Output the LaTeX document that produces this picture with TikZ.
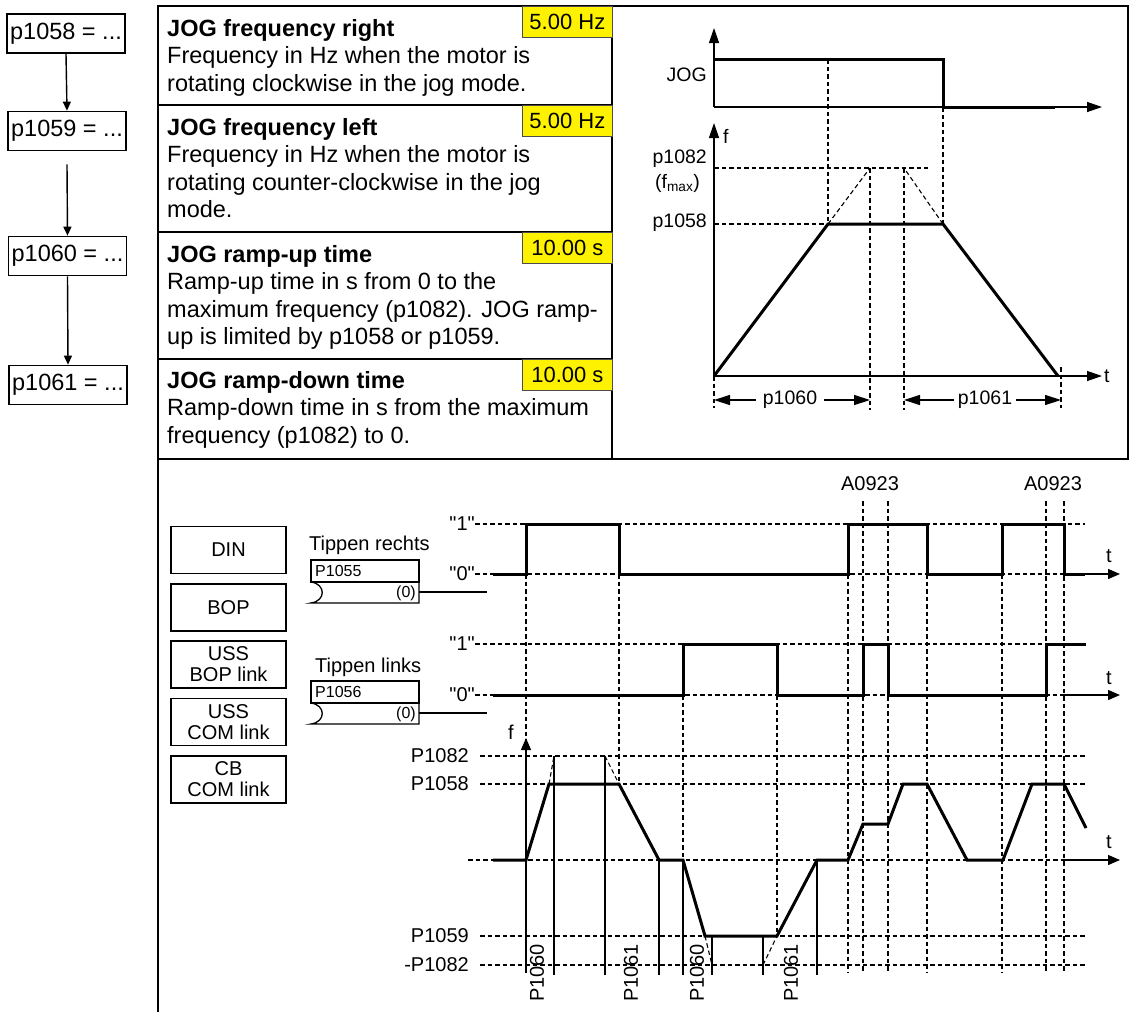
\documentclass[tikz,border=0pt]{standalone}
\usepackage{fontspec}
\setmainfont{Liberation Sans}
\newfontfamily\qfont{Liberation Sans}
\usetikzlibrary{arrows.meta}
\newcommand{\dqt}{{\qfont\symbol{34}}}
\begin{document}
\begin{tikzpicture}[x=1pt,y=-1pt,
 frame/.style={line width=2pt},
 pbox/.style={draw, line width=1.7pt, minimum width=118pt, minimum height=39pt, inner sep=0pt, font=\fontsize{23.5}{28}\selectfont},
 parr/.style={-{Triangle[length=9pt,width=8pt]}, line width=1.4pt},
 desc/.style={anchor=north west, inner sep=0pt, align=left, font=\fontsize{23.5}{27.5}\selectfont},
 val/.style={draw=black!70, fill=yellow, line width=0.8pt, minimum width=90pt, minimum height=31pt, inner sep=0pt, font=\fontsize{22}{26}\selectfont, anchor=north west},
 sig/.style={line width=3pt, line join=miter},
 dsh/.style={line width=1.1pt, dash pattern=on 4.5pt off 3pt},
 thin/.style={line width=1.2pt},
 lbl/.style={inner sep=0pt, font=\fontsize{20}{21}\selectfont},
 tlbl/.style={inner sep=0pt, font=\fontsize{19.5}{21}\selectfont},
 ax/.style={line width=1.3pt, -{Triangle[length=15pt,width=10pt]}},
 bax/.style={line width=1.3pt, -{Triangle[length=12pt,width=10pt]}},
 dimarr/.style={line width=1.3pt, -{Triangle[length=16pt,width=10pt]}},
 src/.style={draw, line width=1.6pt, minimum width=115pt, minimum height=47pt, inner sep=0pt, align=center, font=\fontsize{20}{21}\selectfont},
 small/.style={inner sep=0pt, font=\fontsize{16}{18}\selectfont},
 pb/.style={line width=1.3pt}
]
\useasboundingbox (0,0) rectangle (1130,1012);

% ---------- left parameter chain ----------
\node[pbox] (p58) at (66,33.5) {p1058 = ...};
\node[pbox] (p59) at (67,131) {p1059 = ...};
\node[pbox] (p60) at (67.5,256) {p1060 = ...};
\node[pbox] (p61) at (68,385) {p1061 = ...};
\draw[parr] (p58.south) -- (p59.north);
\draw[parr] ([yshift=-13pt]p59.south) -- (p60.north);
\draw[parr] (p60.south) -- (p61.north);

% ---------- table frame ----------
\draw[frame] (158,6) rectangle (1128,459);
\draw[frame] (158,459) -- (158,1012);
\draw[frame] (612,6) -- (612,459);
\draw[frame] (158,105) -- (612,105);
\draw[frame] (158,232) -- (612,232);
\draw[frame] (158,359) -- (612,359);

% ---------- descriptions ----------
\node[desc] (d1) at (167,16.75) {\strut\textbf{JOG frequency right}\\Frequency in Hz when the motor is\\rotating clockwise in the jog mode.};
\node[desc] (d2) at (167,115.75) {\strut\textbf{JOG frequency left}\\Frequency in Hz when the motor is\\rotating counter-clockwise in the jog\\mode.};
\node[desc] (d3) at (167,242.75) {\strut\textbf{JOG ramp-up time}\\Ramp-up time in s from 0 to the\\maximum frequency (p1082). JOG ramp-\\up is limited by p1058 or p1059.};
\node[desc] (d4) at (167,368.75) {\strut\textbf{JOG ramp-down time}\\Ramp-down time in s from the maximum\\frequency (p1082) to 0.};
\node[val] (v1) at (522,6) {5.00 Hz};
\node[val] (v2) at (522,105) {5.00 Hz};
\node[val] (v3) at (522,232) {10.00 s};
\node[val] (v4) at (522,359) {10.00 s};

% ---------- top-right graph ----------
\coordinate (jo) at (714,107);
\draw[ax] (jo) -- (714,28);
\draw[ax] (jo) -- (1102,107);
\draw[sig] (714,59) -- (943,59) -- (943,107) -- (1055,107);
\node[tlbl, anchor=east] (jog) at (707,75) {JOG};
\draw[dsh] (828,59) -- (828,224);
\draw[dsh] (943,107) -- (943,224);
\coordinate (fo) at (714,376);
\draw[ax] (fo) -- (714,123);
\draw[ax] (fo) -- (1102,376);
\node[tlbl, anchor=west] (tf) at (723,136) {f};
\node[tlbl, anchor=west] (tt) at (1104,376) {t};
\draw[dsh] (714,168) -- (928,168);
\draw[dsh] (714,224) -- (828,224);
\node[tlbl, anchor=base east] (l82) at (707,163) {p1082};
\node[tlbl, anchor=base west] (lfm) at (655,188) {(f\textsubscript{max})};
\node[tlbl, anchor=east] (l58) at (707,223) {p1058};
\draw[dsh] (828,224) -- (870,168);
\draw[dsh] (943,224) -- (904,168);
\draw[dsh] (870,168) -- (870,410);
\draw[dsh] (904,168) -- (904,410);
\draw[dsh] (714,376) -- (714,408);
\draw[dsh] (1061,367) -- (1061,408);
\draw[sig] (714,376) -- (828,224) -- (943,224) -- (1058,376);
\node[tlbl, inner xsep=7pt] (d60) at (790,400) {p1060};
\draw[dimarr] (d60.west) -- (714,400);
\draw[dimarr] (d60.east) -- (870,400);
\node[tlbl, inner xsep=4pt] (d61) at (985,400) {p1061};
\draw[dimarr] (d61.west) -- (904,400);
\draw[dimarr] (d61.east) -- (1061,400);

% ---------- bottom: sources ----------
\node[src] (sdin) at (228.5,550) {DIN};
\node[src] (sbop) at (228.5,607.5) {BOP};
\node[src] (suss1) at (228.5,664.5) {USS\\BOP link};
\node[src] (suss2) at (228.5,722) {USS\\COM link};
\node[src] (scb) at (228.5,779.5) {CB\\COM link};

% ---------- parameter blocks ----------
\node[lbl, anchor=base west] (tr) at (309,550) {Tippen rechts};
\draw[pb] (311,560) rectangle (419,582);
\node[small, anchor=base west] (n55) at (315,576) {P1055};
\draw[pb] (311,582) .. controls (326,584) and (326,601) .. (311,603) -- (419,603) -- (419,582);
\node[small, anchor=base east] (z55) at (416,597) {(0)};
\coordinate (o55) at (487,592);
\draw[thin] (419,592) -- (o55);

\node[lbl, anchor=base west] (tl) at (315,672) {Tippen links};
\draw[pb] (311,681) rectangle (419,703);
\node[small, anchor=base west] (n56) at (315,697) {P1056};
\draw[pb] (311,703) .. controls (326,705) and (326,722) .. (311,724) -- (419,724) -- (419,703);
\node[small, anchor=base east] (z56) at (416,718) {(0)};
\coordinate (o56) at (487,713);
\draw[thin] (419,713) -- (o56);

% ---------- level labels and lines ----------
\node[lbl, anchor=east] (s1h) at (475,524) {\dqt1\dqt};
\node[lbl, anchor=east] (s1l) at (475,574) {\dqt0\dqt};
\node[lbl, anchor=east] (s2h) at (475,644) {\dqt1\dqt};
\node[lbl, anchor=east] (s2l) at (475,695) {\dqt0\dqt};
\draw[dsh] (475,524) -- (1085,524);
\draw[dsh] (475,574) -- (1085,574);
\draw[dsh] (475,644) -- (1085,644);
\draw[dsh] (475,695) -- (1064,695);

\node[lbl] (a1) at (870,484) {A0923};
\node[lbl] (a2) at (1053,484) {A0923};

% vertical grid
\draw[dsh] (526,574) -- (526,973);
\draw[dsh] (619,574) -- (619,784);
\draw[dsh] (683,695) -- (683,860);
\draw[dsh] (777,695) -- (777,936);
\foreach \xx in {848,927,1002} \draw[dsh] (\xx,574) -- (\xx,973);
\foreach \xx in {863,888,1046,1064} \draw[dsh] (\xx,501) -- (\xx,973);

% f levels
\draw[dsh] (480,756) -- (1085,756);
\draw[dsh] (480,784) -- (1085,784);
\draw[dsh] (468,860) -- (1064,860);
\draw[dsh] (480,936) -- (1085,936);
\draw[dsh] (480,965) -- (1085,965);
\node[lbl, anchor=east] (f82) at (469,756) {P1082};
\node[lbl, anchor=east] (f58) at (469,784) {P1058};
\node[lbl, anchor=east] (f59) at (469,936) {P1059};
\node[lbl, anchor=east] (fm82) at (469,965) {-P1082};

% axes
\draw[bax] (526,973) -- (526,738);
\node[lbl] (ff) at (511,732) {f};
\draw[bax] (1085,574) -- (1120,574);
\draw[bax] (1064,695) -- (1120,695);
\draw[bax] (1064,860) -- (1120,860);
\node[lbl] (t1) at (1109,556) {t};
\node[lbl] (t2) at (1109,678) {t};
\node[lbl] (t3) at (1109,842) {t};

% signals
\draw[sig] (493,574) -- (526,574) -- (526,524) -- (619,524) -- (619,574) -- (848,574) -- (848,524) -- (927,524) -- (927,574) -- (1002,574) -- (1002,524) -- (1064,524) -- (1064,574) -- (1085,574);
\draw[sig] (493,695) -- (683,695) -- (683,644) -- (777,644) -- (777,695) -- (863,695) -- (863,644) -- (888,644) -- (888,695) -- (1046,695) -- (1046,644) -- (1086,644);

% f curve
\draw[dsh] (549,784) -- (554,756);
\draw[dsh] (605,756) -- (619,784);
\draw[dsh] (705,936) -- (712,965);
\draw[dsh] (763,965) -- (777,936);
\foreach \xx/\yy in {554/756,605/756,659/860,683/860,712/936,763/936,817/860} \draw[thin] (\xx,\yy) -- (\xx,975);
\draw[sig] (493,860) -- (526,860) -- (549,784) -- (619,784) -- (659,860) -- (683,860) -- (705,936) -- (777,936) -- (817,860) -- (848,860) -- (863,824) -- (888,824) -- (903,784) -- (927,784) -- (967,860) -- (1003,860) -- (1032,784) -- (1064,784) -- (1086,828);

\node[lbl, rotate=90] (r1) at (537,973) {P1060};
\node[lbl, rotate=90] (r2) at (631,973) {P1061};
\node[lbl, rotate=90] (r3) at (697,973) {P1060};
\node[lbl, rotate=90] (r4) at (791,973) {P1061};
\end{tikzpicture}
\end{document}
